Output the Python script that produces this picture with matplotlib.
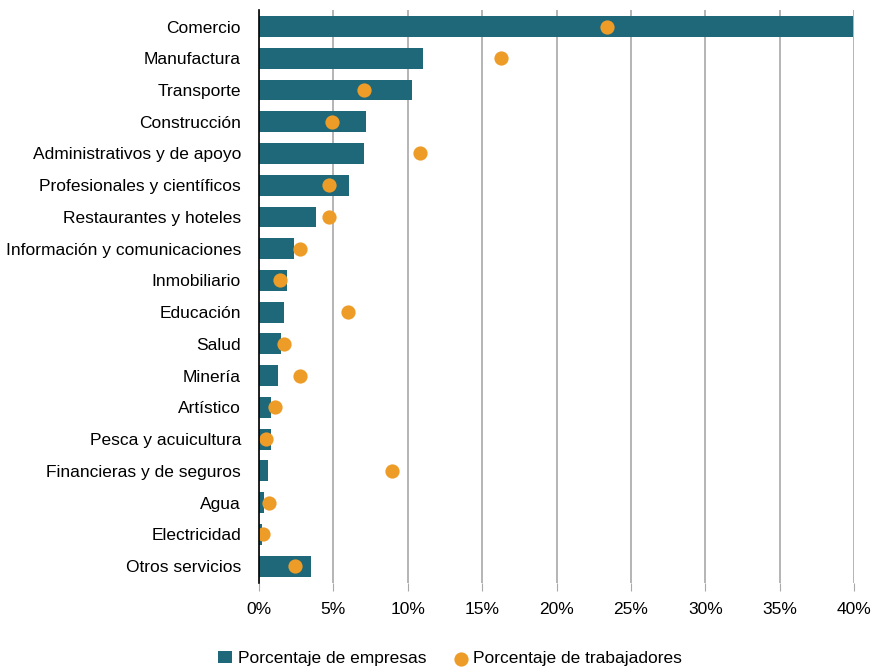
import matplotlib.pyplot as plt
from matplotlib.ticker import FuncFormatter

sectores = ['Comercio', 'Manufactura', 'Transporte', 'Construcción',
            'Administrativos y de apoyo', 'Profesionales y científicos',
            'Restaurantes y hoteles', 'Información y comunicaciones',
            'Inmobiliario', 'Educación', 'Salud', 'Minería', 'Artístico',
            'Pesca y acuicultura', 'Financieras y de seguros', 'Agua',
            'Electricidad', 'Otros servicios']
empresas = [39.9, 11.0, 10.3, 7.2, 7.05, 6.05, 3.8, 2.35, 1.85, 1.7, 1.45,
            1.3, 0.8, 0.8, 0.6, 0.35, 0.18, 3.5]
trabajadores = [23.4, 16.3, 7.05, 4.9, 10.85, 4.7, 4.7, 2.75, 1.4, 5.95,
                1.65, 2.75, 1.05, 0.5, 8.95, 0.65, 0.3, 2.45]

c_bar = '#1f6879'
c_dot = '#ee9c28'

plt.rcParams['font.family'] = ['Liberation Sans', 'DejaVu Sans']

fig = plt.figure(figsize=(8.74, 6.72), dpi=100)
ax = fig.add_axes([259 / 874, 1 - 583 / 672, (854 - 259) / 874, (583 - 10) / 672])

y = list(range(len(sectores)))
barras = ax.barh(y, empresas, height=0.66, color=c_bar, zorder=2,
                 label='Porcentaje de empresas')
puntos = ax.scatter(trabajadores, y, s=105, color=c_dot, zorder=3, linewidths=0,
                    label='Porcentaje de trabajadores')

ax.set_xlim(0, 40)
ax.set_ylim(len(sectores) - 0.47, -0.52)
ax.set_yticks(y)
ax.set_yticklabels(sectores, fontsize=12.5)
ax.set_xticks(range(0, 41, 5))
ax.xaxis.set_major_formatter(FuncFormatter(lambda v, p: f'{int(v)}%'))
ax.tick_params(axis='x', labelsize=12.5, length=6, color='#a8a8a8', pad=8)
ax.tick_params(axis='y', length=0, pad=13)

for s in ['top', 'right', 'bottom']:
    ax.spines[s].set_visible(False)
ax.spines['left'].set_color('black')
ax.spines['left'].set_linewidth(1.2)
ax.spines['left'].set_zorder(4)
ax.grid(axis='x', color='#a8a8a8', linewidth=1.2, zorder=0)
ax.set_axisbelow(True)

fig.legend(handles=[barras, puntos], loc='lower center',
           bbox_to_anchor=(0.515, -0.015), ncol=2,
           frameon=False, fontsize=12.5, handlelength=0.8, handletextpad=0.3,
           columnspacing=1.6)

fig.savefig('out.png', dpi=100)
